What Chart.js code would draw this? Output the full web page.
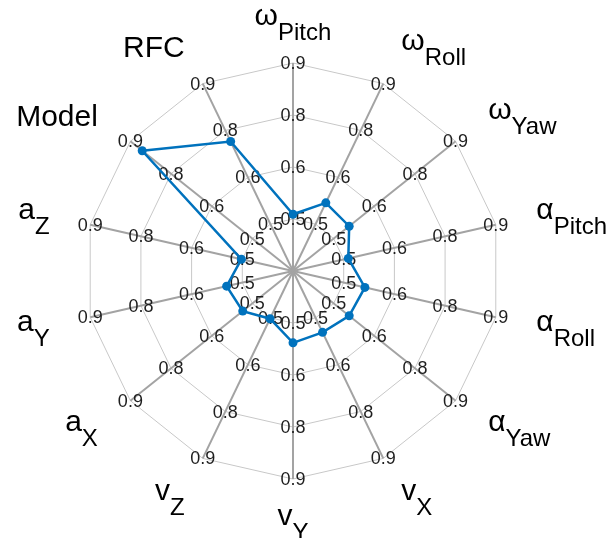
<!DOCTYPE html>
<html>
<head>
<meta charset="utf-8">
<script src="https://cdn.jsdelivr.net/npm/chart.js@4/dist/chart.umd.min.js"></script>
<style>
  html, body { margin: 0; padding: 0; background: #ffffff; }
  #c { display: block; }
</style>
</head>
<body>
<canvas id="c" width="611" height="538"></canvas>
<script>
// ---- Data ----
const axisBase = ['ω', 'ω', 'ω', 'α', 'α', 'α', 'v', 'v', 'v', 'a', 'a', 'a', 'Model', 'RFC'];
const axisSub  = ['Pitch', 'Roll', 'Yaw', 'Pitch', 'Roll', 'Yaw', 'X', 'Y', 'Z', 'X', 'Y', 'Z', '', ''];
const categories = axisBase.map((b, i) => axisSub[i] ? b + '_' + axisSub[i] : b);
const scores = [0.50, 0.55, 0.54, 0.50, 0.545, 0.54, 0.53, 0.54, 0.49, 0.52, 0.53, 0.49, 0.86, 0.73];
const tickValues = [0.35, 0.4875, 0.625, 0.7625, 0.9];
const tickLabels = ['', '0.5', '0.6', '0.8', '0.9'];

const FONT = '"Liberation Sans", Arial, sans-serif';

// Per-axis tick labels
const tickLabelPlugin = {
  id: 'tickLabelPlugin',
  beforeDatasetsDraw(chart) {
    const s = chart.scales.r;
    const ctx = chart.ctx;
    ctx.save();
    ctx.font = '18px ' + FONT;
    ctx.fillStyle = '#1e1e1e';
    ctx.textAlign = 'center';
    ctx.textBaseline = 'middle';
    for (let i = 0; i < categories.length; i++) {
      for (let j = 1; j < tickValues.length; j++) {
        const p = s.getPointPositionForValue(i, tickValues[j]);
        ctx.fillText(tickLabels[j], p.x, p.y + 1);
      }
    }
    ctx.restore();
  }
};

// Axis labels with subscripts
const axisLabelPlugin = {
  id: 'axisLabelPlugin',
  afterDraw(chart) {
    const s = chart.scales.r;
    const ctx = chart.ctx;
    const baseFont = '30px ' + FONT;
    const subFont = '24px ' + FONT;
    ctx.save();
    ctx.fillStyle = '#000000';
    ctx.textBaseline = 'alphabetic';
    ctx.textAlign = 'left';
    for (let i = 0; i < categories.length; i++) {
      const p = s.getPointPosition(i, s.drawingArea * 1.2);
      const dx = p.x - s.xCenter;
      ctx.font = baseFont;
      const wb = ctx.measureText(axisBase[i]).width;
      ctx.font = subFont;
      const ws = axisSub[i] ? ctx.measureText(axisSub[i]).width : 0;
      const wt = wb + ws;
      let x0;
      if (Math.abs(dx) < 1) x0 = p.x - wt / 2;
      else if (dx > 0) x0 = p.x;
      else x0 = p.x - wt;
      const baseline = p.y + 11 - (axisSub[i] ? 7 : 0);
      ctx.font = baseFont;
      ctx.fillText(axisBase[i], x0, baseline);
      if (axisSub[i]) {
        ctx.font = subFont;
        ctx.fillText(axisSub[i], x0 + wb, baseline + 15);
      }
    }
    ctx.restore();
  }
};

new Chart(document.getElementById('c'), {
  type: 'radar',
  data: {
    labels: categories,
    datasets: [{
      data: scores,
      borderColor: '#0072BD',
      backgroundColor: '#0072BD',
      borderWidth: 2.5,
      fill: false,
      tension: 0,
      pointRadius: 4.5,
      pointHoverRadius: 4.5,
      pointBackgroundColor: '#0072BD',
      pointBorderColor: '#0072BD',
      pointBorderWidth: 0
    }]
  },
  options: {
    responsive: false,
    animation: false,
    devicePixelRatio: 1,
    layout: { padding: { left: 85, top: 63, right: 110, bottom: 59 } },
    plugins: { legend: { display: false }, tooltip: { enabled: false }, title: { display: false } },
    scales: {
      r: {
        min: 0.35,
        max: 0.9,
        afterBuildTicks(axis) {
          axis.ticks = tickValues.map(v => ({ value: v }));
        },
        ticks: { display: false },
        pointLabels: { display: false },
        grid: { circular: false, color: '#c8c8c8', lineWidth: 1 },
        angleLines: { display: true, color: '#a3a3a3', lineWidth: 2 }
      }
    }
  },
  plugins: [tickLabelPlugin, axisLabelPlugin]
});
</script>
</body>
</html>
